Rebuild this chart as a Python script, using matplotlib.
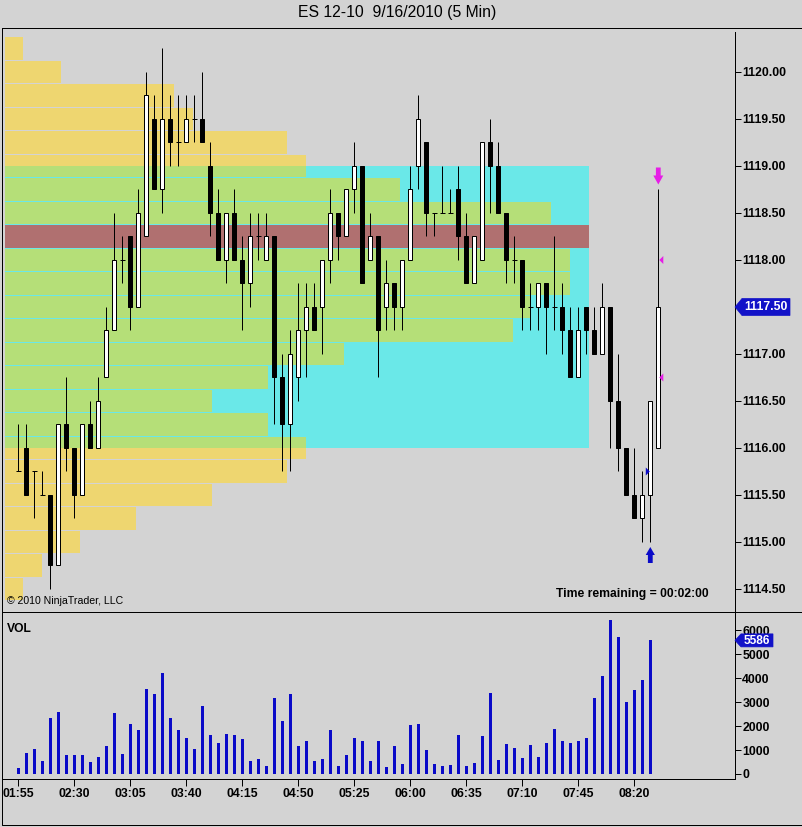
import numpy as np
import matplotlib
matplotlib.use('Agg')
import matplotlib.pyplot as plt
from matplotlib.patches import Rectangle, Polygon
from matplotlib import font_manager

# ---------------- data ----------------
title = 'ES 12-10  9/16/2010 (5 Min)'
start_hour, start_minute, bar_minutes = 1, 55, 5
time_tick_labels = ['01:55', '02:30', '03:05', '03:40', '04:15', '04:50',
                    '05:25', '06:00', '06:35', '07:10', '07:45', '08:20']

opens = [1115.75, 1116.00, 1115.75, 1115.50, 1115.50, 1114.75, 1116.25, 1116.00, 1115.50, 1116.25,
         1116.00, 1116.75, 1117.25, 1118.00, 1118.25, 1117.50, 1118.25, 1119.50, 1118.75, 1119.50,
         1119.25, 1119.25, 1119.50, 1119.50, 1119.00, 1118.50, 1118.00, 1118.50, 1118.00, 1117.75,
         1118.25, 1118.00, 1118.25, 1116.75, 1116.25, 1116.75, 1117.25, 1117.50, 1117.50, 1118.00,
         1118.50, 1118.25, 1118.75, 1119.00, 1118.00, 1118.25, 1117.50, 1117.75, 1117.50, 1118.00,
         1119.00, 1119.25, 1118.50, 1118.50, 1118.50, 1118.75, 1118.25, 1117.75, 1118.00, 1119.25,
         1119.00, 1118.50, 1118.00, 1118.00, 1117.50, 1117.50, 1117.75, 1117.50, 1117.50, 1117.25,
         1116.75, 1117.50, 1117.25, 1117.00, 1117.50, 1116.50, 1116.00, 1115.50, 1115.25, 1115.50,
         1116.00]
highs = [1116.25, 1116.25, 1115.75, 1115.75, 1115.50, 1116.25, 1116.75, 1116.00, 1116.25, 1116.50,
         1116.75, 1117.50, 1118.50, 1118.25, 1118.25, 1118.75, 1120.00, 1119.75, 1120.25, 1119.75,
         1119.75, 1119.75, 1119.75, 1120.00, 1119.25, 1118.75, 1118.50, 1118.75, 1118.25, 1118.50,
         1118.50, 1118.50, 1118.25, 1117.00, 1117.25, 1117.75, 1117.75, 1117.75, 1118.00, 1118.75,
         1118.50, 1118.75, 1119.25, 1119.00, 1118.50, 1118.25, 1118.00, 1117.75, 1118.00, 1119.00,
         1119.75, 1119.25, 1118.50, 1119.00, 1118.75, 1119.00, 1118.50, 1118.25, 1119.25, 1119.50,
         1119.25, 1118.50, 1118.25, 1118.00, 1117.75, 1117.75, 1117.75, 1118.25, 1117.75, 1117.50,
         1117.50, 1117.50, 1117.50, 1117.75, 1117.50, 1117.00, 1116.00, 1116.00, 1115.75, 1116.50,
         1118.75]
lows = [1115.75, 1115.50, 1115.25, 1115.50, 1114.50, 1114.75, 1115.75, 1115.25, 1115.50, 1116.00,
        1116.00, 1116.75, 1117.25, 1117.75, 1117.25, 1117.50, 1118.25, 1118.75, 1118.50, 1119.00,
        1119.00, 1119.25, 1119.25, 1119.25, 1118.25, 1118.00, 1117.75, 1118.00, 1117.25, 1117.50,
        1118.00, 1118.00, 1116.25, 1115.75, 1115.75, 1116.50, 1116.75, 1117.25, 1117.00, 1117.75,
        1118.00, 1118.25, 1118.50, 1117.75, 1118.00, 1116.75, 1117.25, 1117.25, 1117.25, 1118.00,
        1118.75, 1118.25, 1118.25, 1118.50, 1118.50, 1118.00, 1117.75, 1117.75, 1118.00, 1118.50,
        1118.50, 1117.75, 1117.75, 1117.25, 1117.25, 1117.25, 1117.00, 1117.25, 1117.00, 1116.75,
        1116.75, 1117.00, 1117.00, 1117.00, 1116.00, 1115.75, 1115.50, 1115.25, 1115.00, 1115.00,
        1116.00]
closes = [1115.75, 1115.50, 1115.75, 1115.50, 1114.75, 1116.25, 1116.00, 1115.50, 1116.25, 1116.00,
          1116.50, 1117.25, 1118.00, 1118.00, 1117.50, 1118.50, 1119.75, 1118.75, 1119.50, 1119.25,
          1119.25, 1119.50, 1119.50, 1119.25, 1118.50, 1118.00, 1118.50, 1118.00, 1117.75, 1118.25,
          1118.25, 1118.25, 1116.75, 1116.25, 1117.00, 1117.25, 1117.50, 1117.25, 1118.00, 1118.50,
          1118.25, 1118.75, 1119.00, 1117.75, 1118.25, 1117.25, 1117.75, 1117.50, 1118.00, 1118.75,
          1119.50, 1118.50, 1118.50, 1118.50, 1118.50, 1118.25, 1117.75, 1118.25, 1119.25, 1119.00,
          1118.50, 1118.00, 1118.00, 1117.50, 1117.50, 1117.75, 1117.50, 1117.50, 1117.25, 1116.75,
          1117.25, 1117.25, 1117.00, 1117.50, 1116.50, 1116.00, 1115.50, 1115.25, 1115.50, 1116.50,
          1117.50]
# volume of completed bars (the last, still-forming bar has no volume plotted)
volumes = [250, 880, 1060, 545, 2360, 2600, 800, 800, 800, 500,
           730, 1190, 2570, 840, 2070, 1860, 3540, 3330, 4210, 2360,
           1860, 1520, 1060, 2830, 1610, 1310, 1690, 1650, 1480, 560,
           640, 350, 3160, 2200, 3330, 1150, 1360, 560, 640, 1860,
           350, 810, 1520, 1360, 560, 1400, 310, 1190, 430, 2030,
           2070, 1020, 430, 350, 390, 1650, 350, 475, 1570, 3370,
           600, 1270, 1100, 685, 1230, 730, 1310, 1900, 1360, 1310,
           1400, 1520, 3160, 4080, 6420, 5710, 3030, 3500, 3920, 5586]

# volume profile (relative volume at price, % of POC)
profile_prices = [1120.25, 1120.00, 1119.75, 1119.50, 1119.25, 1119.00, 1118.75, 1118.50,
                  1118.25, 1118.00, 1117.75, 1117.50, 1117.25, 1117.00, 1116.75, 1116.50,
                  1116.25, 1116.00, 1115.75, 1115.50, 1115.25, 1115.00, 1114.75, 1114.50]
profile_volume = [3.1, 9.6, 28.9, 32.2, 48.3, 51.5, 67.6, 93.5,
                  100.0, 96.7, 96.7, 90.1, 87.0, 58.0, 45.0, 35.4,
                  45.0, 51.5, 48.3, 35.4, 22.4, 12.8, 6.3, 3.1]
poc_price = 1118.25
va_high = 1119.00
va_low = 1116.00
tick_size = 0.25

price_ticks = [1114.5, 1115.0, 1115.5, 1116.0, 1116.5, 1117.0,
               1117.5, 1118.0, 1118.5, 1119.0, 1119.5, 1120.0]
vol_ticks = [0, 1000, 2000, 3000, 4000, 5000, 6000]

short_arrow_bar = 80      # magenta down arrow above this bar
long_arrow_bar = 79       # blue up arrow below this bar
sell_marks = [(80, 1118.00), (80, 1116.75)]
buy_marks = [(79, 1115.75)]

copyright_text = '\u00a9 2010 NinjaTrader, LLC'
timer_text = 'Time remaining = 00:02:00'

# ---------------- style ----------------
W, H = 803, 827
BG = '#D3D3D3'
YEL = '#EED670'
GRN = '#B5DF78'
CYAN = '#6AE8E8'
POC = '#B07070'
VOLC = '#0A0AC8'
BOXC = '#1212C8'
MAG = '#E61EE6'
LW = 0.72

plt.rcParams['font.family'] = ['Liberation Sans', 'DejaVu Sans']
names = {f.name for f in font_manager.fontManager.ttflist}
if 'Liberation Sans Narrow' in names:
    title_family, title_size = ['Liberation Sans Narrow', 'DejaVu Sans'], 13.0
else:
    title_family, title_size = ['Liberation Sans', 'DejaVu Sans'], 11.3

n = len(opens)
t0 = start_hour * 60 + start_minute
times = ['%02d:%02d' % ((t0 + bar_minutes * i) // 60, (t0 + bar_minutes * i) % 60) for i in range(n)]
tick_pos = [times.index(t) for t in time_tick_labels]

fig = plt.figure(figsize=(W / 100, H / 100), dpi=100, facecolor=BG)


def rect(x0, y0, x1, y1):
    return [x0 / W, 1 - y1 / H, (x1 - x0) / W, (y1 - y0) / H]


PX0, PX1 = 2, 735
P_TOP, P_BOT = 32, 611
V_TOP, V_BOT = 612, 779

# price range: 1120.00 at pixel 72, 94 px per point
ylo = 1120.0 - (P_BOT - 72) / 94.0
yhi = 1120.0 + (72 - P_TOP) / 94.0
xlo = -(18.3 - PX0) / 8.0
xhi = (PX1 - 18.3) / 8.0

# ---- profile axes (behind) ----
axp = fig.add_axes(rect(PX0, P_TOP, PX1, P_BOT))
axp.axis('off')
axp.set_ylim(ylo, yhi)
pmax = max(profile_volume)
axp.set_xlim(-3 / 5.84, (PX1 - 5) / 5.84)
axp.add_patch(Rectangle((0, va_low), pmax, va_high - va_low, facecolor=CYAN, edgecolor='none', zorder=1))
gap = 0.012
for p, v in zip(profile_prices, profile_volume):
    lo, hi = p - tick_size / 2 + gap / 2, p + tick_size / 2 - gap / 2
    if p == poc_price:
        axp.add_patch(Rectangle((0, lo), v, hi - lo, facecolor=POC, edgecolor='none', zorder=2))
        continue
    segs = []
    if lo < va_low:
        segs.append((lo, min(hi, va_low), YEL))
    if hi > va_low and lo < va_high:
        segs.append((max(lo, va_low), min(hi, va_high), GRN))
    if hi > va_high:
        segs.append((max(lo, va_high), hi, YEL))
    for a, b, c in segs:
        axp.add_patch(Rectangle((0, a), v, b - a, facecolor=c, edgecolor='none', zorder=2))

# ---- candle axes ----
ax = fig.add_axes(rect(PX0, P_TOP, PX1, P_BOT))
ax.patch.set_visible(False)
ax.set_xlim(xlo, xhi)
ax.set_ylim(ylo, yhi)
bw = 0.5
for i in range(n):
    o, h, l, c = opens[i], highs[i], lows[i], closes[i]
    ax.vlines(i, l, h, color='black', lw=LW, zorder=3)
    if c == o:
        ax.hlines(o, i - bw / 2 - 0.06, i + bw / 2 + 0.06, color='black', lw=LW, zorder=4)
    else:
        fc = 'white' if c > o else 'black'
        ax.add_patch(Rectangle((i - bw / 2, min(o, c)), bw, abs(c - o), facecolor=fc,
                               edgecolor='black', lw=LW, zorder=4))
for s in ['top', 'left', 'bottom']:
    ax.spines[s].set_visible(False)
ax.spines['right'].set_linewidth(LW)
ax.yaxis.tick_right()
ax.set_yticks(price_ticks)
# the tick label under the last-price box is hidden by the box itself
ax.set_yticklabels(['' if t == closes[-1] else '%.2f' % t for t in price_ticks],
                   fontsize=8.8, fontweight='bold')
ax.tick_params(axis='y', length=4.2, width=LW, pad=1)
ax.tick_params(axis='x', bottom=False, labelbottom=False)

# ---- volume axes ----
axv = fig.add_axes(rect(PX0, V_TOP, PX1, V_BOT))
axv.patch.set_visible(False)
axv.set_xlim(xlo, xhi)
axv.set_ylim(-(V_BOT - 774) / 23.92 * 1000, (774 - V_TOP) / 23.92 * 1000)
axv.bar(np.arange(len(volumes)), volumes, width=0.36, color=VOLC, zorder=2)
for s in ['top', 'left']:
    axv.spines[s].set_visible(False)
axv.spines['right'].set_linewidth(LW)
axv.spines['bottom'].set_linewidth(LW)
axv.yaxis.tick_right()
axv.set_yticks(vol_ticks)
axv.set_yticklabels([str(v) for v in vol_ticks], fontsize=8.8, fontweight='bold')
axv.tick_params(axis='y', length=4.2, width=LW, pad=1)
axv.set_xticks(tick_pos)
axv.set_xticklabels(time_tick_labels, fontsize=8.8, fontweight='bold')
axv.tick_params(axis='x', length=5, width=LW, pad=1.5)

# ---- overlay in pixel space ----
axf = fig.add_axes([0, 0, 1, 1])
axf.axis('off')
axf.set_xlim(0, W)
axf.set_ylim(H, 0)


def to_px(a, x, y):
    return axf.transData.inverted().transform(a.transData.transform((x, y)))


axf.plot([2, 802, 802, 2, 2], [27.5, 27.5, 825, 825, 27.5], color='black', lw=LW)
axf.plot([2, 802], [611.5, 611.5], color='black', lw=LW)

fig.text(397 / W, 1 - 13 / H, title, ha='center', va='center', fontsize=title_size,
         family=title_family, color='black')
axf.text(7, 601, copyright_text, ha='left', va='center', fontsize=7.6, color='black')
axf.text(709, 594, timer_text, ha='right', va='center', fontsize=8.7, fontweight='bold', color='black')
axf.text(7, 629, 'VOL', ha='left', va='center', fontsize=8.7, fontweight='bold', color='black')

# last price box
_, yp = to_px(ax, 0, closes[-1])
axf.add_patch(Polygon([(735, yp), (742, yp - 8.5), (790, yp - 8.5), (790, yp + 8.5), (742, yp + 8.5)],
                      closed=True, facecolor=BOXC, edgecolor=BOXC, lw=0.5))
axf.text(766, yp + 0.5, '%.2f' % closes[-1], ha='center', va='center', color='white',
         fontsize=8.8, fontweight='bold')
# last volume box
_, yv = to_px(axv, 0, volumes[-1])
axf.add_patch(Polygon([(735, yv), (741, yv - 6.5), (773, yv - 6.5), (773, yv + 6.5), (741, yv + 6.5)],
                      closed=True, facecolor=BOXC, edgecolor=BOXC, lw=0.5))
axf.text(757, yv + 0.5, str(volumes[-1]), ha='center', va='center', color='white',
         fontsize=8.6, fontweight='bold')

# arrows
xc, yh = to_px(ax, short_arrow_bar, highs[short_arrow_bar])
axf.add_patch(Polygon([(xc - 2.4, yh - 22), (xc + 2.4, yh - 22), (xc + 2.4, yh - 14), (xc + 5, yh - 14),
                       (xc, yh - 5), (xc - 5, yh - 14), (xc - 2.4, yh - 14)],
                      closed=True, facecolor=MAG, edgecolor='none'))
xc, yl = to_px(ax, long_arrow_bar, lows[long_arrow_bar])
axf.add_patch(Polygon([(xc - 2.4, yl + 21), (xc + 2.4, yl + 21), (xc + 2.4, yl + 13), (xc + 4.6, yl + 13),
                       (xc, yl + 5), (xc - 4.6, yl + 13), (xc - 2.4, yl + 13)],
                      closed=True, facecolor=VOLC, edgecolor='none'))
for b, p in sell_marks:
    xc, yy = to_px(ax, b, p)
    axf.add_patch(Polygon([(xc + 1, yy), (xc + 5, yy - 4), (xc + 5, yy + 4)], closed=True,
                          facecolor=MAG, edgecolor='none'))
for b, p in buy_marks:
    xc, yy = to_px(ax, b, p)
    axf.add_patch(Polygon([(xc - 0.5, yy), (xc - 4.5, yy - 4), (xc - 4.5, yy + 4)], closed=True,
                          facecolor=VOLC, edgecolor='none'))

fig.savefig('out.png', dpi=100, facecolor=BG)
